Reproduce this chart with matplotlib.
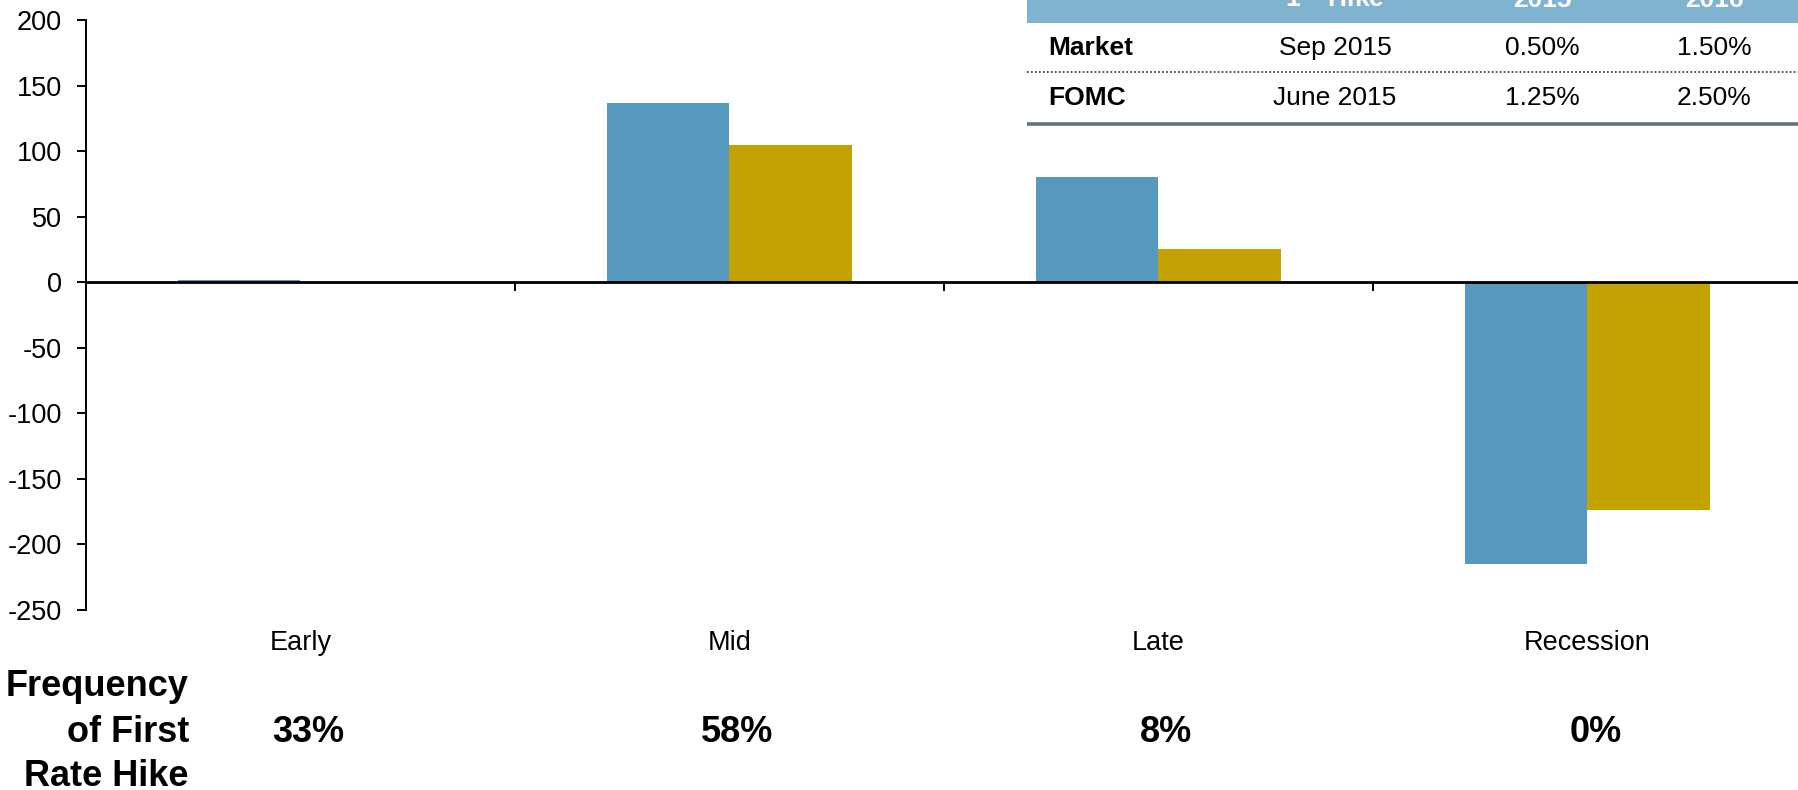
import matplotlib
matplotlib.use("Agg")
import matplotlib.pyplot as plt
import matplotlib.transforms as mtransforms
import numpy as np

plt.rcParams['font.family'] = ['Liberation Sans', 'DejaVu Sans']
plt.rcParams['axes.unicode_minus'] = False

# Data
categories = ["Early", "Mid", "Late", "Recession"]
series_a = [2, 137, 80, -215]      # blue bars
series_b = [0, 105, 25, -174]      # gold bars
first_hike_freq = ["33%", "58%", "8%", "0%"]
yticks = [-250, -200, -150, -100, -50, 0, 50, 100, 150, 200]

table_header = ["", "1$^{\\mathbf{st}}$ Hike", "2015", "2016"]
table_rows = [
    ["Market", "Sep 2015", "0.50%", "1.50%"],
    ["FOMC", "June 2015", "1.25%", "2.50%"],
]

W, H = 1799, 790
fig = plt.figure(figsize=(W / 100, H / 100), dpi=100)
fig.patch.set_facecolor("white")

# Main bar axes (pixel layout converted to figure fractions)
left_px, right_px, top_px, bottom_px = 86, 1802, 20, 610
ax = fig.add_axes([left_px / W, 1 - bottom_px / H,
                   (right_px - left_px) / W, (bottom_px - top_px) / H])

x = np.arange(len(categories))
w = 1 / 3.5
ax.bar(x - w / 2, series_a, w, color="#5599BF", edgecolor="none", zorder=2)
ax.bar(x + w / 2, series_b, w, color="#C4A204", edgecolor="none", zorder=2)

ax.set_xlim(-0.5, len(categories) - 0.5)
ax.set_ylim(-250, 200)

for s in ("top", "right"):
    ax.spines[s].set_visible(False)
ax.spines["left"].set_linewidth(1.4)
ax.spines["left"].set_color("black")
ax.spines["bottom"].set_position(("data", 0))
ax.spines["bottom"].set_linewidth(2.0)
ax.spines["bottom"].set_color("black")
ax.spines["bottom"].set_zorder(3)

ax.set_yticks(yticks)
ax.set_yticklabels([str(v) for v in yticks])
ax.tick_params(axis="y", direction="out", length=6.5, width=1.4,
               labelsize=19.5, pad=11, colors="black")
ax.set_xticks(x[:-1] + 0.5)
ax.set_xticklabels([])
ax.tick_params(axis="x", direction="out", length=6.5, width=1.4)

# Category labels below the plot area
cat_trans = mtransforms.blended_transform_factory(ax.transData, fig.transFigure)
for xi, name in zip(x, categories):
    ax.text(xi, 1 - 642.5 / H, name, transform=cat_trans, ha="center",
            va="center", fontsize=19.5, color="black")

# Frequency of first rate hike row
freq_trans = mtransforms.offset_copy(cat_trans, fig=fig, x=8, y=0, units="dots")
for xi, val in zip(x, first_hike_freq):
    ax.text(xi, 1 - 732 / H, val, transform=freq_trans, ha="center",
            va="center", fontsize=26, fontweight="bold", color="black")

for line, ypx in zip(["Frequency", "of First", "Rate Hike"], [686, 732, 777]):
    fig.text(189 / W, 1 - ypx / H, line, ha="right", va="center",
             fontsize=26, fontweight="bold", color="black")

# Summary table in the top-right corner
tax = fig.add_axes([0, 0, 1, 1], zorder=5)
tax.set_xlim(0, W)
tax.set_ylim(H, 0)
tax.axis("off")
tax.patch.set_alpha(0)

t_left = 1027
tax.add_patch(plt.Rectangle((t_left, -20), W - t_left + 5, 42.5,
                            facecolor="#80B3D0", edgecolor="none"))
tax.add_patch(plt.Rectangle((t_left, 22.5), W - t_left + 5, 101,
                            facecolor="white", edgecolor="none"))

col_x = [1048, 1335, 1542, 1714]
for j, txt in enumerate(table_header):
    if not txt:
        continue
    tax.text(col_x[j], 7, txt, ha="center", va="baseline", fontsize=19,
             fontweight="bold", color="white")

row_y = [48, 98]
for r, row in enumerate(table_rows):
    for j, txt in enumerate(row):
        if j == 0:
            tax.text(col_x[j], row_y[r], txt, ha="left", va="center",
                     fontsize=19, fontweight="bold", color="black")
        else:
            tax.text(col_x[j], row_y[r], txt, ha="center", va="center",
                     fontsize=19, color="black")

tax.plot([t_left, W], [72, 72], color="#444444", linestyle=(0, (1, 1.2)),
         linewidth=1.3)
tax.plot([t_left, W], [124, 124], color="#5E7385", linewidth=2.6,
         solid_capstyle="butt")

fig.savefig("out.png", dpi=100, facecolor="white")
